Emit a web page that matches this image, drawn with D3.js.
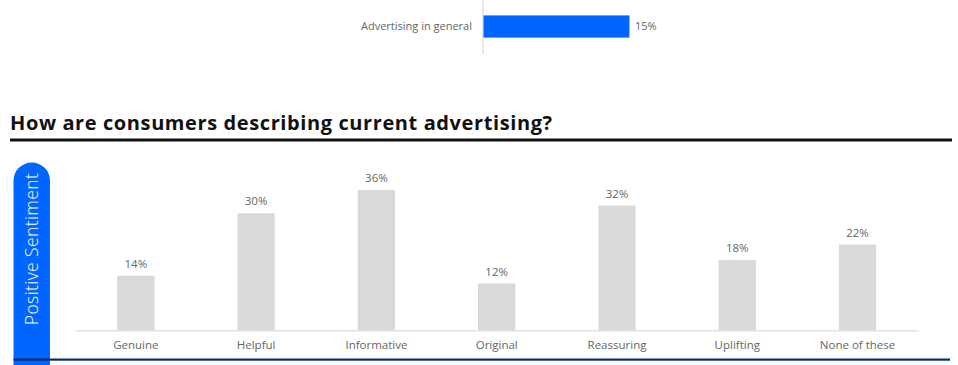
<!DOCTYPE html>
<html>
<head>
<meta charset="utf-8">
<script src="https://cdn.jsdelivr.net/npm/d3@7"></script>
<style>
  html, body { margin: 0; padding: 0; background: #fff; }
  svg { display: block; font-family: "Open Sans", Lato, sans-serif; }
</style>
</head>
<body>
<svg id="chart" width="958" height="365"></svg>
<script>
// Overall figure (top strip)
const overallLabels = ["Advertising in general"];
const overallValues = [15];

// Descriptions of current advertising
const categories = ["Genuine", "Helpful", "Informative", "Original", "Reassuring", "Uplifting", "None of these"];
const shares = [14, 30, 36, 12, 32, 18, 22];

const title = "How are consumers describing current advertising?";
const sideLabel = "Positive Sentiment";

const svg = d3.select("#chart");
const blue = "#0066ff";
const textGrey = "#666666";
const fontStack = "'Open Sans', Lato, sans-serif";

// ---- top strip: single horizontal bar ----
const xTop = d3.scaleLinear().domain([0, 100]).range([483, 483 + 973]);
const yTop = d3.scaleBand().domain(overallLabels).range([8, 45]).padding(0.25);

svg.append("line")
  .attr("x1", xTop(0)).attr("x2", xTop(0))
  .attr("y1", 0).attr("y2", 54)
  .attr("stroke", "#cfcfcf").attr("stroke-width", 1);

svg.selectAll(".topbar").data(overallValues).join("rect")
  .attr("class", "topbar")
  .attr("x", xTop(0) + 0.5)
  .attr("y", (d, i) => yTop(overallLabels[i]))
  .attr("width", d => xTop(d) - xTop(0))
  .attr("height", yTop.bandwidth())
  .attr("fill", blue);

svg.selectAll(".toplabel").data(overallLabels).join("text")
  .attr("class", "toplabel")
  .attr("x", xTop(0) - 11)
  .attr("y", d => yTop(d) + yTop.bandwidth() / 2)
  .attr("dy", "0.35em")
  .attr("text-anchor", "end")
  .attr("font-size", 11)
  .attr("fill", textGrey)
  .text(d => d);

svg.selectAll(".topvalue").data(overallValues).join("text")
  .attr("class", "topvalue")
  .attr("x", d => xTop(d) + 6)
  .attr("y", (d, i) => yTop(overallLabels[i]) + yTop.bandwidth() / 2)
  .attr("dy", "0.35em")
  .attr("font-size", 11)
  .attr("fill", textGrey)
  .text(d => d + "%");

// ---- section title ----
svg.append("text")
  .attr("x", 10).attr("y", 130)
  .attr("font-size", 20)
  .attr("font-weight", 700)
  .attr("letter-spacing", 0.6)
  .attr("fill", "#111")
  .text(title);

svg.append("rect")
  .attr("x", 10).attr("y", 138.5)
  .attr("width", 942).attr("height", 3)
  .attr("fill", "#111");

// ---- side pill ----
const pillX = 13.5, pillW = 36.5, pillTop = 162.5, pillR = pillW / 2;
svg.append("path")
  .attr("d", `M${pillX},365 V${pillTop + pillR} A${pillR},${pillR} 0 0 1 ${pillX + pillW},${pillTop + pillR} V365 Z`)
  .attr("fill", blue);

svg.append("text")
  .attr("transform", `translate(${pillX + pillW / 2 + 0.5},249) rotate(-90)`)
  .attr("text-anchor", "middle")
  .attr("dy", "0.35em")
  .attr("font-size", 17.5)
  .attr("font-weight", 300)
  .attr("letter-spacing", 0.4)
  .attr("fill", "#fff")
  .text(sideLabel);

// ---- column chart ----
const x = d3.scaleBand().domain(categories).range([75.7, 917.7])
  .paddingInner(0.69).paddingOuter(0.345);
const y = d3.scaleLinear().domain([0, 40]).range([330.3, 330.3 - 3.9 * 40]);

svg.selectAll(".bar").data(shares).join("rect")
  .attr("class", "bar")
  .attr("x", (d, i) => x(categories[i]))
  .attr("y", d => y(d))
  .attr("width", x.bandwidth())
  .attr("height", d => y(0) - y(d))
  .attr("fill", "#d9d9d9");

svg.selectAll(".val").data(shares).join("text")
  .attr("class", "val")
  .attr("x", (d, i) => x(categories[i]) + x.bandwidth() / 2)
  .attr("y", d => y(d) - 12)
  .attr("dy", "0.35em")
  .attr("text-anchor", "middle")
  .attr("font-size", 11.5)
  .attr("fill", textGrey)
  .text(d => d + "%");

const xAxis = svg.append("g")
  .attr("transform", `translate(0,${y(0)})`)
  .call(d3.axisBottom(x).tickSize(0).tickPadding(11));
xAxis.select(".domain").attr("stroke", "#dddddd").attr("stroke-width", 1.2);
xAxis.selectAll("text")
  .attr("font-family", fontStack)
  .attr("font-size", 11.5)
  .attr("fill", textGrey);

// navy rule at the bottom of the panel
svg.append("rect")
  .attr("x", pillX).attr("y", 358.5)
  .attr("width", 950 - pillX).attr("height", 2.2)
  .attr("fill", "#0b2a6b");
</script>
</body>
</html>
